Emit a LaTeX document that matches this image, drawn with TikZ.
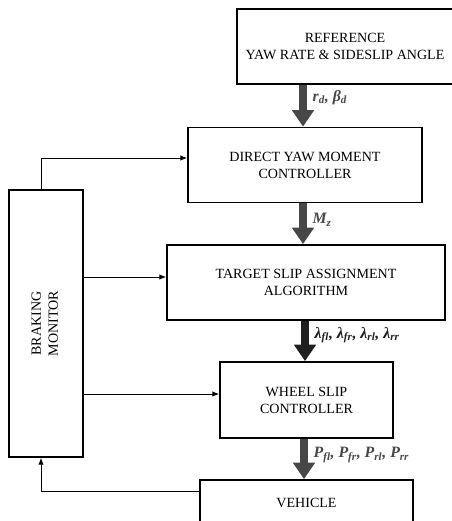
\documentclass[tikz,border=0pt]{standalone}
\usepackage{fontspec}
\setmainfont{Liberation Serif}
\usepackage{tikz}
\usetikzlibrary{arrows.meta, positioning, calc}
\newcommand{\sg}[2]{#1\textsubscript{#2}}
\tikzset{
  block/.style={draw, line width=1.5pt, align=center, font=\fontsize{12}{14.6}\selectfont, inner sep=0pt},
  flow/.style={-{Triangle[length=14pt, width=18pt]}, line width=6.5pt, black!72},
  arrow/.style={-{Latex[length=2mm, width=1.6mm]}, line width=0.8pt},
  sig/.style={right, inner sep=1pt, font=\fontsize{13.5}{16}\selectfont\bfseries\itshape}
}

\begin{document}
\begin{tikzpicture}[x=0.03cm, y=-0.03cm]
    \useasboundingbox (0,0) rectangle (452,521);
    \node[block, minimum width=216*0.03cm, minimum height=75*0.03cm] (ref) at (345,46.5) {REFERENCE\\YAW RATE \& SIDESLIP ANGLE};
    \node[block, minimum width=234*0.03cm, minimum height=75*0.03cm] (dymc) at (305,165) {DIRECT YAW MOMENT\\CONTROLLER};
    \node[block, minimum width=278*0.03cm, minimum height=75*0.03cm] (tsaa) at (306,282.5) {TARGET SLIP ASSIGNMENT\\ALGORITHM};
    \node[block, minimum width=173*0.03cm, minimum height=76*0.03cm] (wsc) at (306.5,400) {WHEEL SLIP\\CONTROLLER};
    \node[block, minimum width=213*0.03cm, minimum height=46*0.03cm] (veh) at (306.5,503) {VEHICLE};
    \node[block, minimum width=74*0.03cm, minimum height=267*0.03cm] (bm) at (46,323.5) {\rotatebox{90}{\begin{tabular}{c}BRAKING\\MONITOR\end{tabular}}};

    \draw[flow] (ref.south -| 303,0) -- (303,0 |- dymc.north) node[sig, pos=0.3, xshift=4pt] {\sg{r}{d}, \sg{β}{d}};
    \draw[flow] (dymc.south -| 303,0) -- (303,0 |- tsaa.north) node[sig, pos=0.4, xshift=4pt] {\sg{M}{z}};
    \draw[flow, black!88] (tsaa.south -| 305,0) -- (305,0 |- wsc.north) node[sig, pos=0.35, xshift=4pt] {\sg{λ}{fl}, \sg{λ}{fr}, \sg{λ}{rl}, \sg{λ}{rr}};
    \draw[flow] (wsc.south -| 304,0) -- (304,0 |- veh.north) node[sig, pos=0.4, xshift=4pt] {\sg{P}{fl}, \sg{P}{fr}, \sg{P}{rl}, \sg{P}{rr}};

    \draw[arrow] (bm.north -| 41,0) |- (dymc.west |- 0,158);
    \draw[arrow] (bm.east |- 0,277) -- (tsaa.west |- 0,277);
    \draw[arrow] (bm.east |- 0,394) -- (wsc.west |- 0,394);
    \draw[arrow] (veh.west |- 0,491) -| (bm.south -| 41,0);
\end{tikzpicture}
\end{document}
